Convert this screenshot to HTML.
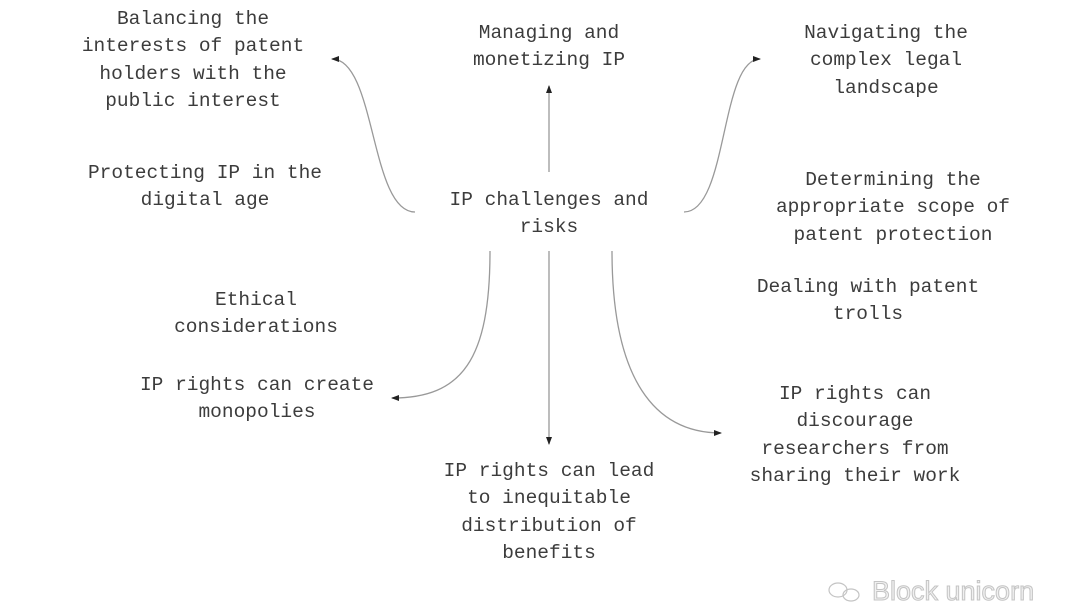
<!DOCTYPE html>
<html><head><meta charset="utf-8"><style>
body{margin:0;width:1080px;height:606px;background:#fff;position:relative;overflow:hidden;font-family:"Liberation Mono","DejaVu Sans Mono",monospace;}
.t{position:absolute;width:400px;margin-left:-200px;text-align:center;font-size:19.5px;line-height:27.4px;color:#3c3c3c;white-space:nowrap;}
svg{position:absolute;left:0;top:0;}
.wm{position:absolute;left:872px;top:576px;font-family:"Liberation Sans",sans-serif;font-size:27px;color:#f0f0f0;-webkit-text-stroke:1px #c4c4c4;}
</style></head><body>
<svg width="1080" height="606" viewBox="0 0 1080 606">
<defs><marker id="a" markerWidth="8" markerHeight="6" refX="7" refY="3" orient="auto" markerUnits="userSpaceOnUse"><path d="M0,0 L8,3 L0,6 z" fill="#222"/></marker></defs>
<g fill="none" stroke="#999" stroke-width="1.3">
<path d="M415,212 C370,212 376,59 332,59" marker-end="url(#a)"/>
<path d="M684,212 C728,212 720,59 760,59" marker-end="url(#a)"/>
<path d="M549,172 L549,86" marker-end="url(#a)"/>
<path d="M549,251 L549,444" marker-end="url(#a)"/>
<path d="M490,251 C490,360 462,398 392,398" marker-end="url(#a)"/>
<path d="M612,251 C612,380 655,433 721,433" marker-end="url(#a)"/>
</g>
<g fill="none" stroke="#c4c4c4" stroke-width="1.2"><ellipse cx="838" cy="590" rx="9" ry="7"/><ellipse cx="851" cy="595" rx="8" ry="6"/></g>
</svg>
<div class="t" style="left:193px;top:6px">Balancing the<br>interests of patent<br>holders with the<br>public interest</div>
<div class="t" style="left:549px;top:20px">Managing and<br>monetizing IP</div>
<div class="t" style="left:886px;top:20px">Navigating the<br>complex legal<br>landscape</div>
<div class="t" style="left:205px;top:160px">Protecting IP in the<br>digital age</div>
<div class="t" style="left:549px;top:187px">IP challenges and<br>risks</div>
<div class="t" style="left:893px;top:167px">Determining the<br>appropriate scope of<br>patent protection</div>
<div class="t" style="left:256px;top:287px">Ethical<br>considerations</div>
<div class="t" style="left:868px;top:274px">Dealing with patent<br>trolls</div>
<div class="t" style="left:257px;top:372px">IP rights can create<br>monopolies</div>
<div class="t" style="left:855px;top:381px">IP rights can<br>discourage<br>researchers from<br>sharing their work</div>
<div class="t" style="left:549px;top:458px">IP rights can lead<br>to inequitable<br>distribution of<br>benefits</div>
<div class="wm">Block unicorn</div>
</body></html>
